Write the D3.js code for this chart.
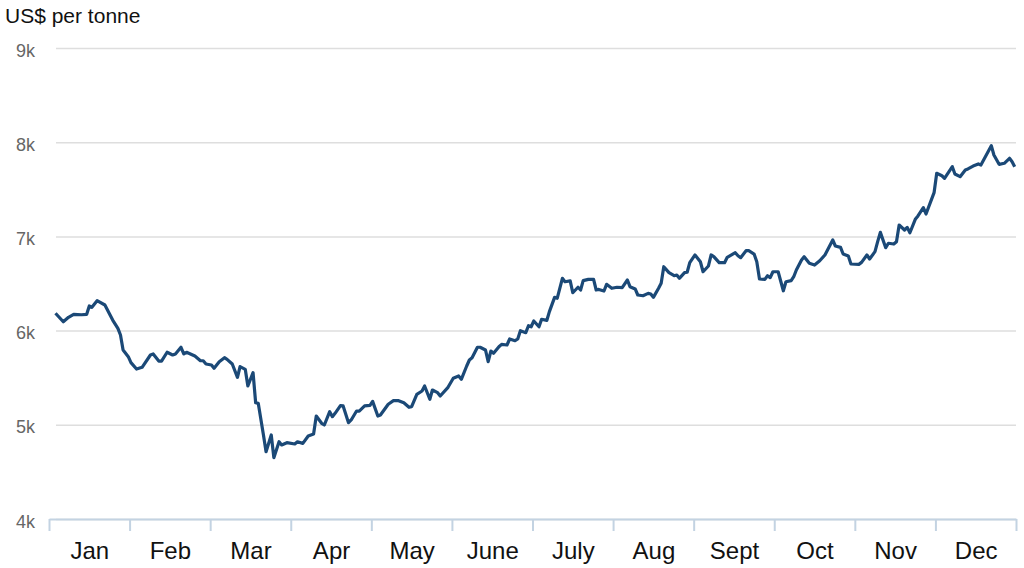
<!DOCTYPE html>
<html>
<head>
<meta charset="utf-8">
<script src="https://cdn.jsdelivr.net/npm/d3@7"></script>
<style>
  body { margin: 0; background: #fff; }
  svg { display: block; font-family: "Liberation Sans", Arial, sans-serif; }
</style>
</head>
<body>
<svg id="chart" width="1024" height="568"></svg>
<script>
// copper price, US$ per tonne, daily
const months = ['Jan', 'Feb', 'Mar', 'Apr', 'May', 'June', 'July', 'Aug', 'Sept', 'Oct', 'Nov', 'Dec']
const yTicks = [4000, 5000, 6000, 7000, 8000, 9000]

const dates = [
  '2020-01-03', '2020-01-06', '2020-01-08', '2020-01-10', '2020-01-13', '2020-01-15', '2020-01-16', '2020-01-17',
  '2020-01-19', '2020-01-22', '2020-01-24', '2020-01-25', '2020-01-27', '2020-01-28', '2020-01-29', '2020-01-31',
  '2020-02-01', '2020-02-03', '2020-02-05', '2020-02-08', '2020-02-09', '2020-02-11', '2020-02-12', '2020-02-14',
  '2020-02-16', '2020-02-17', '2020-02-19', '2020-02-20', '2020-02-21', '2020-02-24', '2020-02-26', '2020-02-27',
  '2020-02-28',
  '2020-03-01', '2020-03-02', '2020-03-04', '2020-03-06', '2020-03-07', '2020-03-09', '2020-03-11', '2020-03-12',
  '2020-03-14', '2020-03-15', '2020-03-17', '2020-03-18', '2020-03-19', '2020-03-21', '2020-03-22', '2020-03-24',
  '2020-03-25', '2020-03-27', '2020-03-28', '2020-03-30',
  '2020-04-02', '2020-04-03', '2020-04-05', '2020-04-07', '2020-04-09', '2020-04-10', '2020-04-12', '2020-04-13',
  '2020-04-15', '2020-04-16', '2020-04-17', '2020-04-19', '2020-04-20', '2020-04-22', '2020-04-23', '2020-04-25',
  '2020-04-26', '2020-04-28', '2020-04-30',
  '2020-05-01', '2020-05-03', '2020-05-04', '2020-05-07', '2020-05-09', '2020-05-11', '2020-05-13', '2020-05-15',
  '2020-05-16', '2020-05-18', '2020-05-20', '2020-05-21', '2020-05-23', '2020-05-24', '2020-05-26', '2020-05-27',
  '2020-05-30',
  '2020-06-01', '2020-06-03', '2020-06-04', '2020-06-06', '2020-06-07', '2020-06-08', '2020-06-10', '2020-06-11',
  '2020-06-13', '2020-06-14', '2020-06-15', '2020-06-16', '2020-06-18', '2020-06-19', '2020-06-21', '2020-06-22',
  '2020-06-24', '2020-06-25', '2020-06-26', '2020-06-28', '2020-06-29', '2020-06-30',
  '2020-07-01', '2020-07-03', '2020-07-04', '2020-07-06', '2020-07-07', '2020-07-09', '2020-07-10', '2020-07-12',
  '2020-07-13', '2020-07-15', '2020-07-16', '2020-07-18', '2020-07-19', '2020-07-20', '2020-07-22', '2020-07-24',
  '2020-07-25', '2020-07-26', '2020-07-28', '2020-07-29', '2020-07-31',
  '2020-08-02', '2020-08-04', '2020-08-06', '2020-08-07', '2020-08-09', '2020-08-10', '2020-08-12', '2020-08-14',
  '2020-08-15', '2020-08-16', '2020-08-18', '2020-08-19', '2020-08-20', '2020-08-22', '2020-08-24', '2020-08-25',
  '2020-08-26', '2020-08-28', '2020-08-29', '2020-08-30',
  '2020-09-01', '2020-09-03', '2020-09-04', '2020-09-06', '2020-09-07', '2020-09-08', '2020-09-10', '2020-09-12',
  '2020-09-13', '2020-09-16', '2020-09-17', '2020-09-18', '2020-09-20', '2020-09-21', '2020-09-23', '2020-09-24',
  '2020-09-25', '2020-09-27', '2020-09-28', '2020-09-29', '2020-09-30',
  '2020-10-02', '2020-10-04', '2020-10-05', '2020-10-07', '2020-10-08', '2020-10-09', '2020-10-11', '2020-10-12',
  '2020-10-14', '2020-10-16', '2020-10-18', '2020-10-20', '2020-10-23', '2020-10-24', '2020-10-26', '2020-10-27',
  '2020-10-29', '2020-10-30',
  '2020-11-02', '2020-11-03', '2020-11-05', '2020-11-06', '2020-11-08', '2020-11-09', '2020-11-10', '2020-11-12',
  '2020-11-13', '2020-11-15', '2020-11-16', '2020-11-17', '2020-11-19', '2020-11-20', '2020-11-21', '2020-11-23',
  '2020-11-24', '2020-11-26', '2020-11-27', '2020-11-30',
  '2020-12-01', '2020-12-03', '2020-12-04', '2020-12-07', '2020-12-08', '2020-12-10', '2020-12-12', '2020-12-13',
  '2020-12-15', '2020-12-17', '2020-12-18', '2020-12-22', '2020-12-23', '2020-12-25', '2020-12-27', '2020-12-29',
  '2020-12-30', '2020-12-31'
]

const prices = [
  6184, 6094, 6141, 6173, 6168, 6173, 6261, 6247,
  6318, 6272, 6166, 6112, 6024, 5953, 5794, 5723,
  5660, 5592, 5610, 5741, 5752, 5677, 5677, 5770,
  5741, 5752, 5823, 5752, 5770, 5730, 5680, 5680,
  5645,
  5635, 5600, 5670, 5712, 5695, 5645, 5504, 5617,
  5589, 5412, 5553, 5234, 5228, 4892, 4714, 4892,
  4651, 4820, 4786, 4810,
  4796, 4820, 4803, 4881, 4902, 5093, 5016, 4998,
  5139, 5086, 5122, 5203, 5200, 5022, 5051, 5146,
  5146, 5200, 5207,
  5249, 5093, 5104, 5218, 5256, 5256, 5234, 5186,
  5192, 5324, 5359, 5412, 5271, 5369, 5341, 5306,
  5398,
  5494, 5518, 5483, 5624, 5688, 5712, 5823, 5823,
  5794, 5670, 5783, 5759, 5829, 5854, 5847, 5911,
  5893, 5911, 5999, 5978, 6052, 6041,
  6102, 6041, 6120, 6108, 6201, 6353, 6343, 6555,
  6519, 6527, 6402, 6460, 6431, 6530, 6544, 6544,
  6431, 6437, 6420, 6491, 6449,
  6460, 6456, 6537, 6466, 6442, 6378, 6370, 6395,
  6388, 6353, 6449, 6502, 6678, 6615, 6583, 6590,
  6555, 6615, 6619, 6721,
  6803, 6731, 6625, 6686, 6803, 6785, 6721, 6721,
  6778, 6827, 6795, 6774, 6848, 6848, 6813, 6731,
  6548, 6544, 6583, 6562, 6625,
  6625, 6423, 6519, 6530, 6572, 6643, 6749, 6785,
  6714, 6696, 6742, 6803, 6962, 6898, 6884, 6813,
  6792, 6707,
  6703, 6724, 6803, 6760, 6838, 6944, 7043, 6880,
  6927, 6919, 6944, 7121, 7068, 7096, 7039, 7181,
  7217, 7305, 7238, 7464,
  7670, 7644, 7617, 7740, 7662, 7634, 7705, 7716,
  7747, 7769, 7758, 7963, 7864, 7765, 7776, 7829,
  7793, 7740
]

const parse = d3.timeParse('%Y-%m-%d')
// months are drawn evenly spaced, so position is month index + fraction of month
function monthPos(d) {
  const m0 = d3.timeMonth.floor(d)
  const days = d3.timeDay.count(m0, d3.timeMonth.offset(m0, 1))
  return d.getMonth() + (d.getDate() - 0.5) / days
}
const data = dates.map((s, i) => ({ t: monthPos(parse(s)), v: prices[i] }))

const svg = d3.select('#chart')
const plotLeft = 49, plotRight = 1016, plotTop = 48, plotBottom = 519
const gridLeft = 56

const x = d3.scaleLinear().domain([0, 12]).range([plotLeft, plotRight])
const y = d3.scaleLinear().domain([4000, 9000]).range([plotBottom, plotTop])

svg.append('text')
  .attr('x', 5)
  .attr('y', 23)
  .style('font-size', '21px')
  .style('fill', '#111')
  .text('US$ per tonne')

// gridlines + y labels
const yAxis = svg.append('g')
  .attr('transform', 'translate(' + gridLeft + ',0)')
  .call(d3.axisLeft(y)
    .tickValues(yTicks)
    .tickSize(-(plotRight - gridLeft))
    .tickPadding(21)
    .tickFormat(d => d / 1000 + 'k'))
yAxis.select('.domain').remove()
yAxis.selectAll('.tick line')
  .attr('stroke', '#dedede')
  .attr('stroke-width', 1.5)
yAxis.selectAll('.tick text')
  .attr('dy', '0.45em')
  .style('font-size', '18px')
  .style('fill', '#666')
  .style('font-family', '"Liberation Sans", Arial, sans-serif')

// month ticks
const xAxis = svg.append('g')
  .attr('transform', 'translate(0,' + plotBottom + ')')
  .call(d3.axisBottom(x)
    .tickValues(d3.range(13))
    .tickSize(12)
    .tickSizeOuter(0)
    .tickFormat(''))
xAxis.select('.domain').attr('stroke', '#c3d3e2').attr('stroke-width', 2)
xAxis.selectAll('.tick line').attr('stroke', '#c3d3e2').attr('stroke-width', 2)

// month labels, centred between ticks
const xLabels = svg.append('g')
  .attr('transform', 'translate(0,' + plotBottom + ')')
  .call(d3.axisBottom(x)
    .tickValues(d3.range(12).map(i => i + 0.5))
    .tickSize(0)
    .tickPadding(23)
    .tickFormat((d, i) => months[i]))
xLabels.select('.domain').remove()
xLabels.selectAll('.tick text')
  .style('font-size', '24px')
  .style('fill', '#111')
  .style('font-family', '"Liberation Sans", Arial, sans-serif')

const line = d3.line()
  .x(d => x(d.t))
  .y(d => y(d.v))

svg.append('path')
  .datum(data)
  .attr('fill', 'none')
  .attr('stroke', '#1b4977')
  .attr('stroke-width', 3.2)
  .attr('stroke-linejoin', 'round')
  .attr('d', line)
</script>
</body>
</html>
